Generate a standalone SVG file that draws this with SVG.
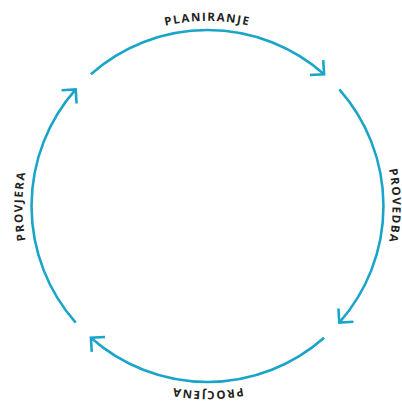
<svg xmlns="http://www.w3.org/2000/svg" width="402" height="406" viewBox="0 0 402 406">
<style>
.arc{fill:none;stroke:#1aa5c8;stroke-width:2.6;stroke-linecap:butt;marker-end:url(#ah)}
.lbl{font-family:"Open Sans","Liberation Sans",sans-serif;font-weight:bold;font-size:11.5px;letter-spacing:1.5px;fill:#231f20}
</style>
<defs>
<marker id="ah" markerUnits="userSpaceOnUse" viewBox="-12 -12 24 24" markerWidth="24" markerHeight="24" refX="0" refY="0" orient="auto" overflow="visible">
<path d="M -10 -10 L 0 0 L -10 10" fill="none" stroke="#1aa5c8" stroke-width="2.6" stroke-linejoin="miter"/>
</marker>
<path id="tp" d="M 76.68 336.82 A 185 185 0 1 1 338.32 75.18 A 185 185 0 1 1 76.68 336.82"/>
</defs>
<rect width="402" height="406" fill="#ffffff"/>
<g id="connectors">
<path class="arc" d="M 90.9 74.2 A 176 176 0 0 1 324.1 74.2"/>
<path class="arc" d="M 339.3 89.4 A 176 176 0 0 1 339.3 322.6"/>
<path class="arc" d="M 324.1 337.8 A 176 176 0 0 1 90.9 337.8"/>
<path class="arc" d="M 75.7 322.6 A 176 176 0 0 1 75.7 89.4"/>
</g>
<g id="planiranje"><text class="lbl" text-anchor="middle"><textPath href="#tp" startOffset="37.5%">PLANIRANJE</textPath></text></g>
<g id="provedba"><text class="lbl" text-anchor="middle"><textPath href="#tp" startOffset="62.5%">PROVEDBA</textPath></text></g>
<g id="procjena"><text class="lbl" text-anchor="middle"><textPath href="#tp" startOffset="87.5%">PROCJENA</textPath></text></g>
<g id="provjera"><text class="lbl" text-anchor="middle"><textPath href="#tp" startOffset="12.5%">PROVJERA</textPath></text></g>
</svg>
